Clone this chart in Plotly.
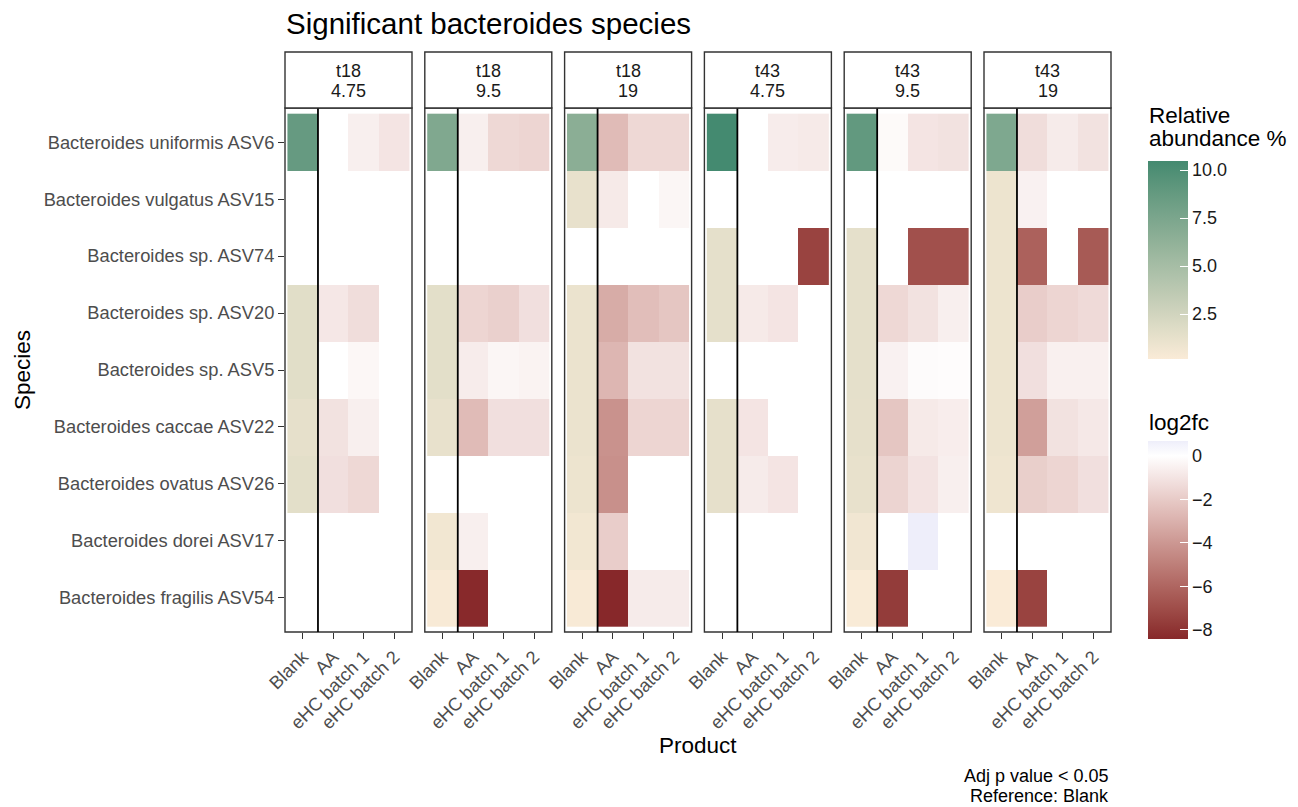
import plotly.graph_objects as go

# ---------------- data ----------------
species = [
    "Bacteroides uniformis ASV6",
    "Bacteroides vulgatus ASV15",
    "Bacteroides sp. ASV74",
    "Bacteroides sp. ASV20",
    "Bacteroides sp. ASV5",
    "Bacteroides caccae ASV22",
    "Bacteroides ovatus ASV26",
    "Bacteroides dorei ASV17",
    "Bacteroides fragilis ASV54",
]
products = ["Blank", "AA", "eHC batch 1", "eHC batch 2"]
timepoints = ["t18", "t18", "t18", "t43", "t43", "t43"]
doses = ["4.75", "9.5", "19", "4.75", "9.5", "19"]
N = None

# Relative abundance % of the Blank
blank_t18_475 = [8.7, N, N, 1.6, 1.6, 1.3, 1.5, N, N]
blank_t18_95 = [7.2, N, N, 1.5, 1.5, 1.2, N, 0.6, 0.25]
blank_t18_19 = [6.6, 1.2, N, 1.0, 1.0, 1.0, 0.9, 0.6, 0.25]
blank_t43_475 = [10.47, N, 1.35, 1.35, N, 1.3, 1.3, N, N]
blank_t43_95 = [8.9, N, 1.35, 1.35, 1.35, 1.3, 1.2, 0.65, 0.2]
blank_t43_19 = [7.3, 0.9, 0.9, 0.9, 0.9, 0.9, 0.8, N, 0.16]

# log2 fold change vs Blank
aa_t18_475 = [N, N, N, -0.9, N, -1.1, -1.2, N, N]
ehc1_t18_475 = [-0.6, N, N, -1.3, -0.3, -0.6, -1.5, N, N]
ehc2_t18_475 = [-1.0, N, N, N, N, N, N, N, N]

aa_t18_95 = [-0.6, N, N, -1.6, -0.7, -2.6, N, -0.6, -8.4]
ehc1_t18_95 = [-1.5, N, N, -1.8, -0.35, -1.2, N, N, N]
ehc2_t18_95 = [-1.6, N, N, -1.2, -0.45, -1.2, N, N, N]

aa_t18_19 = [-2.6, -0.8, N, -3.2, -2.8, -4.2, -4.3, -1.9, -8.43]
ehc1_t18_19 = [-1.5, N, N, -2.5, -1.1, -1.6, N, N, -0.75]
ehc2_t18_19 = [-1.5, -0.35, N, -2.2, -1.1, -1.6, N, N, -0.75]

aa_t43_475 = [N, N, N, -0.8, N, -1.0, -0.75, N, N]
ehc1_t43_475 = [-0.7, N, N, -1.0, N, N, -1.0, N, N]
ehc2_t43_475 = [-0.8, N, -7.4, N, N, N, N, N, N]

aa_t43_95 = [-0.2, N, N, -1.5, -0.5, -2.2, -1.65, N, -7.7]
ehc1_t43_95 = [-1.0, N, -6.9, -1.1, -0.15, -0.8, -1.05, 0.68, N]
ehc2_t43_95 = [-1.1, N, -6.9, -0.6, -0.1, -0.65, -0.6, N, N]

aa_t43_19 = [-1.3, -0.5, -6.2, -1.9, -1.2, -3.7, -1.85, N, -7.4]
ehc1_t43_19 = [-0.75, N, N, -1.6, -0.55, -1.1, -1.6, N, N]
ehc2_t43_19 = [-1.1, N, -6.5, -1.4, -0.55, -0.85, -1.2, N, N]

blank_all = [blank_t18_475, blank_t18_95, blank_t18_19, blank_t43_475, blank_t43_95, blank_t43_19]
aa_all = [aa_t18_475, aa_t18_95, aa_t18_19, aa_t43_475, aa_t43_95, aa_t43_19]
ehc1_all = [ehc1_t18_475, ehc1_t18_95, ehc1_t18_19, ehc1_t43_475, ehc1_t43_95, ehc1_t43_19]
ehc2_all = [ehc2_t18_475, ehc2_t18_95, ehc2_t18_19, ehc2_t43_475, ehc2_t43_95, ehc2_t43_19]


# ---------------- colour helpers (Lab interpolation like ggplot) ----------------
def hex2rgb(h):
    h = h.lstrip("#")
    return [int(h[i:i + 2], 16) for i in (0, 2, 4)]


def _lin(c):
    c = c / 255.0
    return c / 12.92 if c <= 0.04045 else ((c + 0.055) / 1.055) ** 2.4


def _delin(c):
    c = 12.92 * c if c <= 0.0031308 else 1.055 * c ** (1 / 2.4) - 0.055
    return max(0, min(255, round(c * 255)))


XN, YN, ZN = 0.95047, 1.0, 1.08883


def rgb2lab(rgb):
    r, g, b = [_lin(c) for c in rgb]
    X = 0.4124 * r + 0.3576 * g + 0.1805 * b
    Y = 0.2126 * r + 0.7152 * g + 0.0722 * b
    Z = 0.0193 * r + 0.1192 * g + 0.9505 * b

    def f(t):
        return t ** (1 / 3) if t > 0.008856 else 7.787 * t + 16 / 116

    fx, fy, fz = f(X / XN), f(Y / YN), f(Z / ZN)
    return [116 * fy - 16, 500 * (fx - fy), 200 * (fy - fz)]


def lab2hex(lab):
    L, a, b = lab
    fy = (L + 16) / 116
    fx = fy + a / 500
    fz = fy - b / 200

    def finv(t):
        return t ** 3 if t ** 3 > 0.008856 else (t - 16 / 116) / 7.787

    X, Y, Z = XN * finv(fx), YN * finv(fy), ZN * finv(fz)
    r = 3.2406 * X - 1.5372 * Y - 0.4986 * Z
    g = -0.9689 * X + 1.8758 * Y + 0.0415 * Z
    bb = 0.0557 * X - 0.2040 * Y + 1.0570 * Z
    return "#%02x%02x%02x" % (_delin(r), _delin(g), _delin(bb))


def lab_ramp(c0, c1, p0, p1, n=12):
    l0, l1 = rgb2lab(hex2rgb(c0)), rgb2lab(hex2rgb(c1))
    out = []
    for k in range(n + 1):
        t = k / n
        lab = [l0[j] + (l1[j] - l0[j]) * t for j in range(3)]
        out.append([p0 + (p1 - p0) * t, lab2hex(lab)])
    return out


ab_vals = [v for col in blank_all for v in col if v is not None]
fc_vals = [v for grp in (aa_all, ehc1_all, ehc2_all) for col in grp for v in col if v is not None]
ab_min, ab_max = min(ab_vals), max(ab_vals)
fc_min, fc_max = min(fc_vals), max(fc_vals)

green_scale = lab_ramp("#FAEBD7", "#448A70", 0.0, 1.0)
p_white = (0 - fc_min) / (fc_max - fc_min)
red_scale = lab_ramp("#87282A", "#FFFFFF", 0.0, p_white) + lab_ramp("#FFFFFF", "#EEEEFA", p_white, 1.0, 3)[1:]

# ---------------- geometry ----------------
W, H = 1298, 807
panel_left0, panel_step, panel_w = 285, 139.8, 127
panel_top, panel_bot = 108, 632
strip_top = 52


def px(x):
    return x / W


def py(y):
    return 1 - y / H


fig = go.Figure()
shapes, annotations = [], []
layout_axes = {}
xpos = [1, 2, 3, 4]
ypos = list(range(1, len(species) + 1))

for i in range(6):
    sfx = "" if i == 0 else str(i + 1)
    zb = [[blank_all[i][r], None, None, None] for r in range(len(species))]
    zf = [[None, aa_all[i][r], ehc1_all[i][r], ehc2_all[i][r]] for r in range(len(species))]
    fig.add_trace(go.Heatmap(x=xpos, y=ypos, z=zb, coloraxis="coloraxis",
                             xaxis="x" + sfx, yaxis="y" + sfx, hoverongaps=False))
    fig.add_trace(go.Heatmap(x=xpos, y=ypos, z=zf, coloraxis="coloraxis2",
                             xaxis="x" + sfx, yaxis="y" + sfx, hoverongaps=False))

    left = panel_left0 + i * panel_step
    right = left + panel_w
    layout_axes["xaxis" + sfx] = dict(
        domain=[px(left), px(right)], range=[0.42, 4.58], anchor="y" + sfx,
        tickmode="array", tickvals=xpos, ticktext=products, tickangle=-45,
        ticks="outside", ticklen=6, tickwidth=1.3, tickcolor="#333333",
        tickfont=dict(size=18.3, color="#4D4D4D"), automargin=False,
        showgrid=False, zeroline=False, showline=False,
    )
    layout_axes["yaxis" + sfx] = dict(
        domain=[py(panel_bot), py(panel_top)], range=[9.6, 0.4], anchor="x" + sfx,
        tickmode="array", tickvals=ypos, ticktext=species,
        showticklabels=(i == 0), ticks="outside" if i == 0 else "",
        ticklen=6, tickwidth=1.3, tickcolor="#333333",
        tickfont=dict(size=18.3, color="#4D4D4D"), automargin=False,
        showgrid=False, zeroline=False, showline=False,
    )
    # panel border
    shapes.append(dict(type="rect", xref="x" + sfx + " domain", yref="y" + sfx + " domain",
                       x0=0, x1=1, y0=0, y1=1, line=dict(color="#333333", width=1.4)))
    # separator between Blank and products
    shapes.append(dict(type="line", xref="x" + sfx, yref="y" + sfx + " domain",
                       x0=1.5, x1=1.5, y0=0, y1=1, line=dict(color="black", width=1.8)))
    # strip
    shapes.append(dict(type="rect", xref="paper", yref="paper",
                       x0=px(left), x1=px(right), y0=py(panel_top), y1=py(strip_top),
                       fillcolor="white", line=dict(color="#333333", width=1.4)))
    cx = px((left + right) / 2)
    annotations.append(dict(text=timepoints[i], x=cx, y=py(71), xref="paper", yref="paper",
                            showarrow=False, xanchor="center", yanchor="middle",
                            font=dict(size=18, color="#1A1A1A")))
    annotations.append(dict(text=doses[i], x=cx, y=py(90.5), xref="paper", yref="paper",
                            showarrow=False, xanchor="center", yanchor="middle",
                            font=dict(size=18, color="#1A1A1A")))

# titles & captions
annotations += [
    dict(text="Significant bacteroides species", x=px(284), y=py(23), xref="paper", yref="paper",
         showarrow=False, xanchor="left", yanchor="middle", font=dict(size=29.5, color="black")),
    dict(text="Product", x=px(698), y=py(745), xref="paper", yref="paper",
         showarrow=False, xanchor="center", yanchor="middle", font=dict(size=22.5, color="black")),
    dict(text="Species", x=px(22), y=py(370), xref="paper", yref="paper", textangle=-90,
         showarrow=False, xanchor="center", yanchor="middle", font=dict(size=22.5, color="black")),
    dict(text="Adj p value < 0.05", x=px(1111), y=py(776), xref="paper", yref="paper",
         showarrow=False, xanchor="right", yanchor="middle", font=dict(size=18, color="black")),
    dict(text="Reference: Blank", x=px(1111), y=py(796), xref="paper", yref="paper",
         showarrow=False, xanchor="right", yanchor="middle", font=dict(size=18, color="black")),
    dict(text="Relative", x=px(1147), y=py(115), xref="paper", yref="paper",
         showarrow=False, xanchor="left", yanchor="middle", font=dict(size=22.5, color="black")),
    dict(text="abundance %", x=px(1147), y=py(138), xref="paper", yref="paper",
         showarrow=False, xanchor="left", yanchor="middle", font=dict(size=22.5, color="black")),
    dict(text="log2fc", x=px(1147), y=py(422), xref="paper", yref="paper",
         showarrow=False, xanchor="left", yanchor="middle", font=dict(size=22.5, color="black")),
]

cb_common = dict(thicknessmode="pixels", thickness=40, lenmode="pixels",
                 xanchor="left", yanchor="top", xpad=0, ypad=0, outlinewidth=0,
                 ticks="inside", ticklen=8, tickwidth=1.3, tickcolor="white",
                 tickfont=dict(size=18, color="#1A1A1A"), title=dict(text=""))

fig.update_layout(
    width=W, height=H, margin=dict(l=0, r=0, t=0, b=0, autoexpand=False),
    paper_bgcolor="white", plot_bgcolor="white",
    font=dict(family="Liberation Sans, Arial, sans-serif"),
    shapes=shapes, annotations=annotations, showlegend=False,
    coloraxis=dict(colorscale=green_scale, cmin=ab_min, cmax=ab_max,
                   colorbar=dict(x=px(1148), y=py(161), len=198,
                                 tickvals=[2.5, 5.0, 7.5, 10.0],
                                 ticktext=["2.5", "5.0", "7.5", "10.0"], **cb_common)),
    coloraxis2=dict(colorscale=red_scale, cmin=fc_min, cmax=fc_max,
                    colorbar=dict(x=px(1148), y=py(441), len=198,
                                  tickvals=[0, -2, -4, -6, -8],
                                  ticktext=["0", "\u22122", "\u22124", "\u22126", "\u22128"], **cb_common)),
    **layout_axes,
)

fig.write_html("out.html")
